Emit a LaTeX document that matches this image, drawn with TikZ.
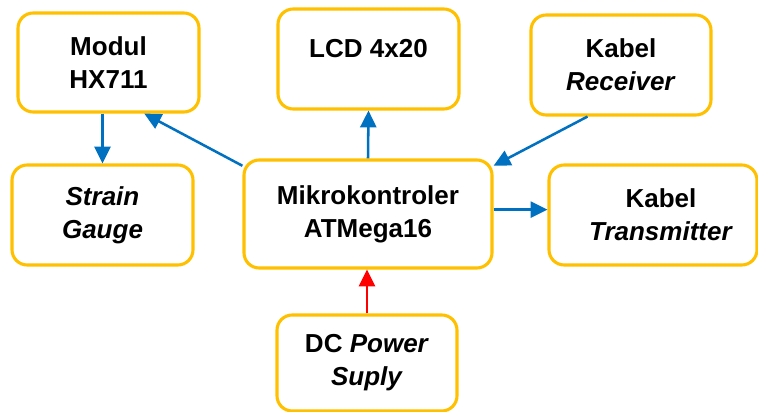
\documentclass[tikz,border=0pt]{standalone}
\usepackage{fontspec}
\setmainfont{Liberation Sans}
\usetikzlibrary{arrows.meta,positioning,calc}
\definecolor{boxgold}{HTML}{FFC000}
\definecolor{linkblue}{HTML}{0070C0}
\definecolor{powerred}{HTML}{FF0000}

\begin{document}
\begin{tikzpicture}[every node/.style={font=\fontsize{18.5}{23.5}\selectfont\bfseries},
  block/.style={draw=boxgold, line width=2.2pt, rounded corners=0.38cm, fill=white,
    align=center, inner sep=0pt, minimum width=4.5cm, minimum height=2.5cm},
  link/.style={draw=linkblue, line width=1.8pt, -{Triangle[length=0.42cm,width=0.4cm]}},
  power/.style={link, draw=powerred}]
\useasboundingbox (0,0) rectangle (18.95,10.3);
\node[block, minimum width=4.525cm, minimum height=2.475cm] (hx) at (2.7125,8.7375) {Modul\\HX711};
\node[block, minimum width=4.525cm, text depth=0.55cm] (lcd) at (9.2125,8.825) {LCD 4x20};
\node[block] (rc) at (15.525,8.675) {Kabel\\\textit{Receiver}};
\node[block, minimum width=4.525cm] (sg) at (2.5625,4.925) {\textit{Strain}\\\textit{Gauge}};
\node[block, minimum width=6.2cm, minimum height=2.7cm] (mc) at (9.2,4.95) {Mikrokontroler\\ATMega16};
\node[block, minimum width=5.2cm] (tr) at (16.325,4.925)
  {\hspace*{0.4cm}Kabel\\\hspace*{0.4cm}\textit{Transmitter}};
\node[block, minimum height=2.4cm] (dc) at (9.175,1.225) {DC \textit{Power}\\\textit{Suply}};
\draw[link] (sg.north |- hx.south) -- (sg.north);
\draw[link] (mc.159) -- (hx.-55);
\draw[link] (mc.north) -- (lcd.south);
\draw[link] (rc.-123) -- (mc.21);
\draw[link] (mc.2) -- (mc.2 -| tr.west);
\draw[power] (dc.north) -- (dc.north |- mc.south);
\end{tikzpicture}
\end{document}
